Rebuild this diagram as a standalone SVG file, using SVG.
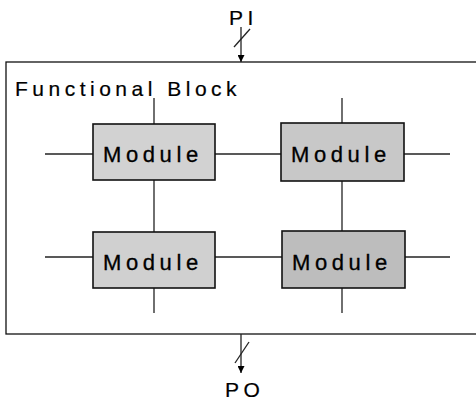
<svg xmlns="http://www.w3.org/2000/svg" width="476" height="400" viewBox="0 0 476 400">
<defs>
<style>
.ln{stroke:#222;stroke-width:1.3;fill:none}
.mod rect{stroke:#111;stroke-width:1.6}
.mt{font-family:"Liberation Sans",Arial,sans-serif;font-size:22px;letter-spacing:4.6px;fill:#000;stroke:#000;stroke-width:0.3}
.lbl{font-family:"Liberation Sans",Arial,sans-serif;font-size:21px;letter-spacing:4.5px;fill:#000;stroke:#000;stroke-width:0.2}
</style>
<marker id="ah" viewBox="0 0 10 10" refX="10" refY="5" markerWidth="7" markerHeight="7" orient="auto" markerUnits="userSpaceOnUse">
<path d="M0,0 L10,5 L0,10 z" fill="#000"/>
</marker>
</defs>
<rect width="476" height="400" fill="#fff"/>
<g id="functional-block">
<rect x="6" y="62" width="474" height="272" fill="none" stroke="#111" stroke-width="1.3"/>
<text class="lbl" x="15" y="96" font-size="22">Functional Block</text>
</g>
<g id="connectors">
<line class="ln" x1="241" y1="27" x2="241" y2="62" marker-end="url(#ah)"/>
<line class="ln" x1="234" y1="47" x2="250" y2="29"/>
<line class="ln" x1="241" y1="334" x2="241" y2="373" marker-end="url(#ah)"/>
<line class="ln" x1="235" y1="363" x2="249" y2="342"/>
<line class="ln" x1="45" y1="154" x2="93" y2="154"/>
<line class="ln" x1="215" y1="154" x2="281" y2="154"/>
<line class="ln" x1="404" y1="154" x2="450" y2="154"/>
<line class="ln" x1="45" y1="257" x2="93" y2="257"/>
<line class="ln" x1="215" y1="257" x2="282" y2="257"/>
<line class="ln" x1="405" y1="257" x2="450" y2="257"/>
<line class="ln" x1="154" y1="98" x2="154" y2="124"/>
<line class="ln" x1="154" y1="180" x2="154" y2="232"/>
<line class="ln" x1="154" y1="288" x2="154" y2="313"/>
<line class="ln" x1="342" y1="98" x2="342" y2="123"/>
<line class="ln" x1="342" y1="181" x2="342" y2="231"/>
<line class="ln" x1="342" y1="288" x2="342" y2="313"/>
</g>
<g id="pi"><text class="lbl" x="229" y="25">PI</text></g>
<g id="po"><text class="lbl" x="225" y="397">PO</text></g>
<g id="module-tl" class="mod"><rect x="93" y="124" width="122" height="56" fill="#d2d2d2"/><text class="mt" x="103" y="162">Module</text></g>
<g id="module-tr" class="mod"><rect x="281" y="123" width="123" height="58" fill="#c8c8c8"/><text class="mt" x="291" y="162">Module</text></g>
<g id="module-bl" class="mod"><rect x="93" y="232" width="122" height="56" fill="#d0d0d0"/><text class="mt" x="103" y="270">Module</text></g>
<g id="module-br" class="mod"><rect x="282" y="231" width="123" height="57" fill="#bdbdbd"/><text class="mt" x="292" y="270">Module</text></g>
</svg>
